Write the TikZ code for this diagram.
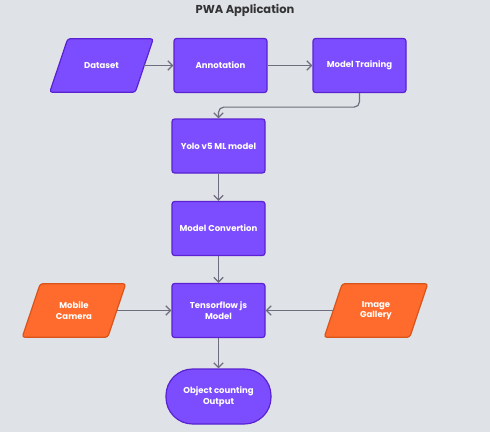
\documentclass[tikz,border=0pt]{standalone}
\usepackage{fontspec}
\setmainfont{Poppins}
\usetikzlibrary{arrows.meta,backgrounds}
\definecolor{bgc}{HTML}{DFE2E7}
\definecolor{purp}{HTML}{7C4DFF}
\definecolor{purpd}{HTML}{5A22D0}
\definecolor{oran}{HTML}{FF6B2C}
\definecolor{orand}{HTML}{D9541A}
\definecolor{linec}{HTML}{6E6E7E}
\definecolor{titlec}{HTML}{333333}
\tikzset{
  stepbox/.style={draw=purpd,fill=purp,line width=0.9pt,rounded corners=2pt,
    minimum width=69.75pt,minimum height=40.5pt,align=center,
    text=white,font=\fontsize{6.4}{8}\selectfont\bfseries},
  inbox/.style={minimum width=63.75pt,minimum height=39.75pt,align=center,
    text=white,font=\fontsize{6.4}{8}\selectfont\bfseries},
  inshape/.style={draw=purpd,fill=purp,line width=0.9pt,rounded corners=2pt},
  srcshape/.style={inshape,draw=orand,fill=oran},
  endbox/.style={stepbox,rounded corners=20pt,minimum width=78.75pt,minimum height=41.25pt},
  conn/.style={draw=linec,line width=0.9pt,-{Straight Barb[length=3.5pt,width=7pt]}}
}
\begin{document}
\begin{tikzpicture}[x=0.75pt,y=-0.75pt]
  \useasboundingbox (0,0) rectangle (490,432);
  \node[font=\fontsize{8.6}{10}\selectfont\bfseries,text=titlec] (title) at (245,10) {PWA Application};

  % top row
  \node[inbox] (data) at (101.5,65.5) {Dataset};
  \node[stepbox] (annot) at (220.5,65.5) {Annotation};
  \node[stepbox] (train) at (359.5,65.5) {Model Training};

  % main column
  \node[stepbox] (yolo) at (218.5,146) {Yolo v5 ML model};
  \node[stepbox] (conv) at (218.5,228.5) {Model Convertion};
  \node[stepbox] (tfjs) at (218.5,310.5) {Tensorflow js\\Model};
  \node[endbox] (out) at (218.5,396.5) {Object counting\\Output};

  % inputs
  \node[inbox] (cam) at (74,310.5) {Mobile\\Camera};
  \node[inbox] (gal) at (376,310.5) {Image\\Gallery};

  % slanted shapes behind the input texts
  \begin{scope}[on background layer]
    \fill[bgc] (0,0) rectangle (490,432);
    \draw[inshape] ([xshift=6.75pt]data.north west) -- ([xshift=6.75pt]data.north east)
      -- ([xshift=-6.75pt]data.south east) -- ([xshift=-6.75pt]data.south west) -- cycle;
    \draw[srcshape] ([xshift=6.75pt]cam.north west) -- ([xshift=6.75pt]cam.north east)
      -- ([xshift=-6.75pt]cam.south east) -- ([xshift=-6.75pt]cam.south west) -- cycle;
    \draw[srcshape] ([xshift=6.75pt]gal.north west) -- ([xshift=6.75pt]gal.north east)
      -- ([xshift=-6.75pt]gal.south east) -- ([xshift=-6.75pt]gal.south west) -- cycle;
  \end{scope}

  \draw[conn] (data) -- (annot);
  \draw[conn] (annot) -- (train);
  \draw[conn,rounded corners=4pt] (train.south) -- ++(0,14) -| (yolo.north);
  \draw[conn] (yolo) -- (conv);
  \draw[conn] (conv) -- (tfjs);
  \draw[conn] (cam) -- (tfjs);
  \draw[conn] (gal) -- (tfjs);
  \draw[conn] (tfjs) -- (out);
\end{tikzpicture}
\end{document}
